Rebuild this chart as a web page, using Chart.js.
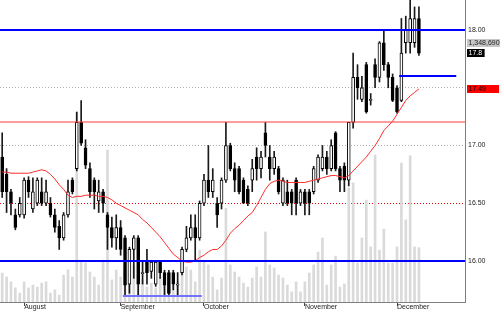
<!DOCTYPE html>
<html>
<head>
<meta charset="utf-8">
<script src="https://cdn.jsdelivr.net/npm/chart.js@4"></script>
<style>
  html, body { margin: 0; padding: 0; background: #fff; }
  #wrap { width: 500px; height: 312px; }
</style>
</head>
<body>
<div id="wrap"><canvas id="chart" width="500" height="312"></canvas></div>
<script>
// ── data ───────────────────────────────────────────────────────────────
const months     = ['August', 'September', 'October', 'November', 'December'];
const monthStart = [5, 27, 46, 69, 90];   // index of first session of each month
const slotCount  = 106;                   // sessions + empty space on the right

const open = [
  16.90, 16.75, 16.60, 16.40, 16.40, 16.40, 16.70, 16.45, 16.50, 16.60,
  16.50, 16.50, 16.40, 16.30, 16.20, 16.40, 16.70, 16.80, 17.20, 16.98,
  16.80, 16.70, 16.52, 16.60, 16.40, 16.29, 16.20, 16.29, 16.20, 15.80,
  16.10, 16.20, 15.89, 16.00, 15.91, 15.80, 15.99, 15.90, 15.90, 15.90,
  15.79, 15.90, 16.10, 16.20, 16.29, 16.20, 16.50, 16.70, 16.60, 16.50,
  16.50, 16.70, 17.00, 16.80, 16.80, 16.70, 16.62, 16.70, 16.90, 16.80,
  17.11, 16.90, 16.80, 16.80, 16.50, 16.60, 16.60, 16.70, 16.50, 16.60,
  16.60, 16.60, 16.70, 16.80, 16.90, 16.80, 17.11, 16.80, 16.82, 16.70,
  17.20, 17.59, 17.40, 17.70, 17.39, 17.70, 17.59, 17.89, 17.70, 17.59,
  17.50, 17.39, 17.89, 17.89, 17.89, 18.10
];
const high = [
  17.11, 16.80, 16.62, 16.45, 16.55, 16.72, 16.73, 16.72, 16.72, 16.72,
  16.70, 16.55, 16.45, 16.35, 16.42, 16.70, 16.72, 17.29, 17.39, 17.05,
  16.85, 16.72, 16.70, 16.62, 16.42, 16.38, 16.40, 16.35, 16.22, 16.12,
  16.22, 16.22, 16.00, 16.10, 16.00, 16.00, 16.00, 15.92, 15.92, 15.92,
  15.90, 16.12, 16.30, 16.40, 16.40, 16.52, 16.75, 17.00, 16.80, 16.55,
  16.72, 17.20, 17.02, 16.85, 16.82, 16.72, 16.65, 16.88, 16.98, 16.95,
  17.20, 17.00, 16.95, 16.82, 16.72, 16.70, 16.62, 16.72, 16.62, 16.62,
  16.62, 16.82, 16.92, 17.00, 16.95, 17.05, 17.12, 16.82, 16.85, 17.20,
  17.80, 17.70, 17.60, 17.72, 17.45, 17.75, 17.90, 18.00, 17.72, 17.62,
  17.52, 18.10, 18.12, 18.26, 18.20, 18.20
];
const low = [
  16.55, 16.42, 16.40, 16.27, 16.38, 16.37, 16.55, 16.42, 16.48, 16.48,
  16.48, 16.38, 16.25, 16.10, 16.18, 16.38, 16.58, 16.78, 17.00, 16.80,
  16.55, 16.45, 16.42, 16.42, 16.10, 16.12, 16.10, 16.05, 15.70, 15.72,
  15.85, 15.70, 15.80, 15.80, 15.85, 15.78, 15.85, 15.70, 15.70, 15.75,
  15.70, 15.88, 16.08, 16.18, 16.00, 16.18, 16.48, 16.55, 16.55, 16.29,
  16.45, 16.68, 16.78, 16.60, 16.58, 16.50, 16.48, 16.60, 16.70, 16.72,
  16.90, 16.70, 16.75, 16.58, 16.48, 16.48, 16.40, 16.40, 16.48, 16.40,
  16.40, 16.58, 16.68, 16.78, 16.75, 16.78, 16.78, 16.60, 16.60, 16.65,
  17.15, 17.40, 17.38, 17.28, 17.35, 17.50, 17.55, 17.65, 17.50, 17.38,
  17.28, 17.38, 17.80, 17.80, 17.85, 17.78
];
const close = [
  16.60, 16.60, 16.50, 16.29, 16.50, 16.70, 16.60, 16.60, 16.70, 16.50,
  16.60, 16.40, 16.29, 16.20, 16.40, 16.60, 16.60, 17.20, 17.02, 16.83,
  16.60, 16.60, 16.60, 16.50, 16.29, 16.20, 16.29, 16.10, 15.79, 16.10,
  16.20, 15.80, 15.90, 15.90, 15.99, 15.99, 15.90, 15.79, 15.72, 15.80,
  15.80, 16.10, 16.20, 16.29, 16.20, 16.50, 16.70, 16.60, 16.70, 16.40,
  16.70, 17.00, 16.80, 16.70, 16.60, 16.50, 16.50, 16.80, 16.80, 16.90,
  17.00, 16.80, 16.90, 16.60, 16.70, 16.50, 16.50, 16.50, 16.60, 16.50,
  16.50, 16.80, 16.90, 16.90, 16.80, 17.00, 16.80, 16.70, 16.70, 17.20,
  17.59, 17.50, 17.50, 17.29, 17.40, 17.59, 17.89, 17.70, 17.59, 17.39,
  17.29, 17.80, 18.00, 18.10, 18.10, 17.80
];
const movingAvg = [
  16.77, 16.77, 16.76, 16.76, 16.76, 16.76, 16.76, 16.77, 16.78, 16.79,
  16.78, 16.75, 16.71, 16.66, 16.62, 16.57, 16.55, 16.56, 16.56, 16.57,
  16.57, 16.57, 16.56, 16.56, 16.55, 16.53, 16.50, 16.48, 16.46, 16.44,
  16.42, 16.40, 16.36, 16.33, 16.29, 16.25, 16.21, 16.16, 16.11, 16.06,
  16.03, 16.00, 15.99, 15.99, 16.00, 16.03, 16.05, 16.08, 16.10, 16.10,
  16.13, 16.18, 16.24, 16.28, 16.31, 16.35, 16.39, 16.42, 16.48, 16.55,
  16.62, 16.67, 16.69, 16.70, 16.69, 16.68, 16.68, 16.68, 16.68, 16.68,
  16.69, 16.70, 16.71, 16.72, 16.73, 16.74, 16.74, 16.73, 16.72, 16.74,
  16.78, 16.82, 16.86, 16.90, 16.95, 17.00, 17.06, 17.13, 17.17, 17.21,
  17.27, 17.33, 17.39, 17.43, 17.46, 17.49
];
const volume = [
   720000,  620000,  500000,  350000,  220000,  500000,  350000,  420000,  370000,  470000,
   500000,  220000,  300000,  170000,  670000,  800000,  620000, 4700000, 1040000,  970000,
   745000,  620000,  420000, 1040000, 3770000,  546000,  795000,  620000,  795000,  745000,
   920000,  670000,  546000,  372000,  470000,  348000,  620000,  500000,  300000,  420000,
   500000,  720000,  870000,  795000,  500000, 1290000, 1040000,  920000,  620000,  300000,
   596000, 2330000,  920000,  745000,  620000,  470000,  370000,  596000,  870000,  620000,
  1740000,  920000,  845000,  670000,  596000,  420000,  250000,  500000,  250000,  500000,
   720000,  920000, 1240000, 1590000,  420000,  920000, 1140000,  372000,  447000, 2830000,
  2960000,  970000, 1590000, 2530000, 1370000, 3650000, 1290000, 1810000,  970000,  970000,
  1370000, 3450000, 2040000, 3630000, 1370000, 1348690
];

const yTicks      = [16.0, 16.5, 17.0, 17.5, 18.0];
const hiddenTicks = [17.5];
// horizontal levels drawn across the whole plot, and short ones between sessions
const levels   = [
  { value: 18.0, color: '#0000ff', width: 2 },
  { value: 17.2, color: '#ff3b3b', width: 1 },
  { value: 16.0, color: '#0000ff', width: 2 },
];
const dottedLevels = [
  { value: 16.5, color: '#ee0000' },
];
const segments = [
  { value: 17.60, from: 91, to: 103, color: '#0000ff', width: 2 },
  { value: 15.70, from: 28, to: 45,  color: '#7373ff', width: 2 },
];

// ── build ──────────────────────────────────────────────────────────────
const labels = Array.from({ length: slotCount }, () => '');
monthStart.forEach((i, k) => { labels[i] = months[k]; });

const wicks  = low.map((l, i) => [l, high[i]]);
const bodies = open.map((o, i) => [o, close[i]]);
const bodyFill = open.map((o, i) => close[i] >= o ? '#ffffff' : '#000000');

const FONT = '"Liberation Sans", Arial, sans-serif';
const isDotted = v => dottedLevels.some(d => d.value === v);

const levelsPlugin = {
  id: 'levels',
  beforeDatasetsDraw(chart) {
    const { ctx, chartArea: a, scales: { y } } = chart;
    ctx.save();
    ctx.lineWidth = 1;
    ctx.setLineDash([1, 2]);
    dottedLevels.forEach(d => {
      const py = Math.round(y.getPixelForValue(d.value)) + 0.5;
      ctx.strokeStyle = d.color;
      ctx.beginPath(); ctx.moveTo(a.left, py); ctx.lineTo(a.right, py); ctx.stroke();
    });
    ctx.restore();
  },
  afterDatasetsDraw(chart) {
    const { ctx, chartArea: a, scales: { x, y } } = chart;
    const half = (x.getPixelForValue(1) - x.getPixelForValue(0)) / 2;
    ctx.save();
    levels.forEach(l => {
      const py = Math.round(y.getPixelForValue(l.value));
      ctx.strokeStyle = l.color; ctx.lineWidth = l.width;
      ctx.beginPath(); ctx.moveTo(a.left, py); ctx.lineTo(a.right, py); ctx.stroke();
    });
    segments.forEach(s => {
      const py = Math.round(y.getPixelForValue(s.value));
      ctx.strokeStyle = s.color; ctx.lineWidth = s.width;
      ctx.beginPath();
      ctx.moveTo(x.getPixelForValue(s.from) - half, py);
      ctx.lineTo(x.getPixelForValue(s.to) + half, py);
      ctx.stroke();
    });
    ctx.restore();
  },
  afterDraw(chart) {
    const { ctx, chartArea: a, scales: { y } } = chart;
    const last = close.length - 1;
    const cy = y.getPixelForValue(close[last]);
    const tags = [
      { text: volume[last].toLocaleString('en-US'), y: cy - 10, bg: '#c6c6c6', fg: '#222', w: 40 },
      { text: String(+close[last].toFixed(2)), y: cy, bg: '#000000', fg: '#ffffff', w: 0 },
      { text: movingAvg[last].toFixed(2), y: y.getPixelForValue(movingAvg[last]), bg: '#ff0000', fg: '#000', w: 32 },
    ];
    ctx.save();
    ctx.font = '7px ' + FONT;
    ctx.textBaseline = 'middle';
    tags.forEach(t => {
      const w = t.w || ctx.measureText(t.text).width + 4;
      ctx.fillStyle = t.bg;
      ctx.fillRect(a.right + 2, Math.round(t.y) - 4, w, 8);
      ctx.fillStyle = t.fg;
      ctx.fillText(t.text, a.right + 3.5, Math.round(t.y) + 0.5);
    });
    ctx.restore();
  }
};

new Chart(document.getElementById('chart'), {
  type: 'bar',
  data: {
    labels,
    datasets: [
      { type: 'line', data: movingAvg, borderColor: '#ff2a2a', borderWidth: 1,
        pointRadius: 0, tension: 0, order: 1 },
      { data: bodies, backgroundColor: bodyFill, borderColor: '#000', borderWidth: 1,
        borderSkipped: false, barThickness: 3, grouped: false, order: 2 },
      { data: wicks, backgroundColor: '#1a1a1a', barThickness: 1, grouped: false, order: 3 },
      { data: volume, yAxisID: 'yVol', backgroundColor: '#dadada', barThickness: 2,
        grouped: false, order: 5 },
    ],
  },
  options: {
    responsive: false,
    animation: false,
    devicePixelRatio: 1,
    layout: { padding: 0 },
    plugins: { legend: { display: false }, tooltip: { enabled: false } },
    scales: {
      x: {
        offset: true,
        grid: { offset: false, drawOnChartArea: false, tickLength: 4,
          color: c => (c.tick && c.tick.label) ? '#444' : 'rgba(0,0,0,0)' },
        border: { display: true, color: '#808080' },
        ticks: { autoSkip: false, maxRotation: 0, minRotation: 0, align: 'start',
          padding: -3, color: '#222', font: { family: FONT, size: 7 } },
        afterFit: s => { s.height = 10; s.paddingLeft = 0; s.paddingRight = 0; },
      },
      y: {
        position: 'right',
        min: 15.645, max: 18.26,
        afterBuildTicks: s => { s.ticks = yTicks.map(v => ({ value: v })); },
        afterFit: s => { s.width = 35; s.paddingTop = 0; s.paddingBottom = 0; },
        grid: { drawTicks: false, lineWidth: 1,
          color: c => (c.tick && isDotted(c.tick.value)) ? 'rgba(0,0,0,0)' : '#b0b0b0' },
        border: { display: true, color: '#808080', dash: [1, 2] },
        ticks: { padding: 3, color: '#222', font: { family: FONT, size: 7 },
          callback: v => hiddenTicks.includes(v) ? '' : v.toFixed(2) },
      },
      yVol: { display: false, min: 0, max: 7500000 },
    },
  },
  plugins: [levelsPlugin],
});
</script>
</body>
</html>
